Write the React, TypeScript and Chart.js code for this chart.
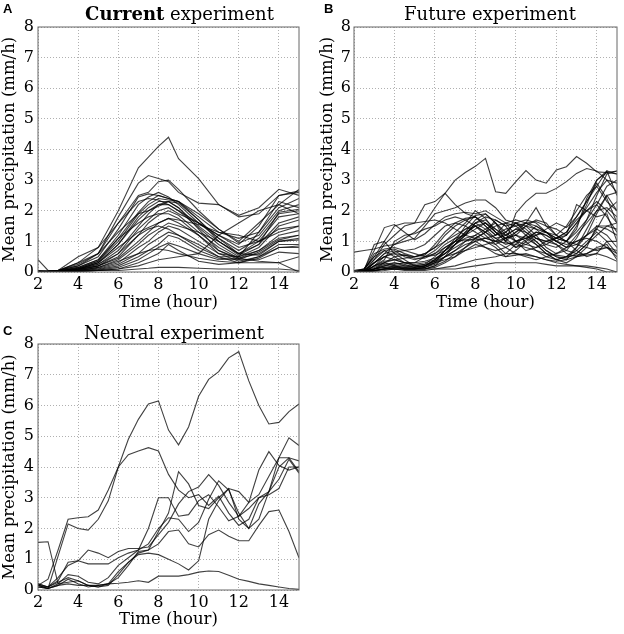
import React, { useEffect, useRef } from "react";
import { Chart, registerables } from "chart.js";
Chart.register(...registerables);

// x positions (hours)
const hoursHalf = [2, 2.5, 3, 3.5, 4, 4.5, 5, 5.5, 6, 6.5, 7, 7.5, 8, 8.5, 9, 9.5, 10, 10.5, 11, 11.5, 12, 12.5, 13, 13.5, 14, 14.5, 15];
const hoursCurrent = [2, 2.5, 3, 4, 5, 6, 7, 7.5, 8, 8.5, 9, 10, 11, 12, 13, 14, 15];
const xTickValues = [2, 4, 6, 8, 10, 12, 14];
const yTickValues = [0, 1, 2, 3, 4, 5, 6, 7, 8];

// Current experiment runs (x = hoursCurrent)
const currentRuns = [
  [0.05, 0.02, 0.05, 0.3, 0.8, 2.0, 3.4, 3.75, 4.1, 4.4, 3.7, 3.05, 2.2, 1.85, 2.1, 2.7, 2.5],
  [0.4, 0.05, 0.05, 0.2, 0.6, 1.8, 2.9, 3.15, 3.05, 2.95, 2.6, 2.25, 2.2, 1.8, 1.9, 2.5, 2.65],
  [0.02, 0.02, 0.05, 0.25, 0.6, 1.6, 2.5, 2.6, 2.95, 3.0, 2.7, 2.0, 1.4, 1.0, 1.6, 2.2, 2.7],
  [0.02, 0.02, 0.05, 0.2, 0.5, 1.4, 2.45, 2.55, 2.5, 2.4, 2.3, 1.8, 1.3, 1.1, 1.3, 2.1, 2.4],
  [0.02, 0.02, 0.04, 0.15, 0.4, 1.2, 2.2, 2.45, 2.6, 2.45, 2.2, 1.6, 1.1, 0.7, 1.1, 1.9, 2.0],
  [0.02, 0.02, 0.03, 0.12, 0.35, 1.0, 1.9, 2.2, 2.4, 2.35, 2.3, 1.9, 1.4, 0.95, 1.2, 2.0, 2.2],
  [0.01, 0.01, 0.03, 0.1, 0.3, 0.9, 1.8, 2.1, 2.3, 2.3, 2.1, 1.5, 1.0, 0.6, 0.9, 1.6, 1.8],
  [0.01, 0.01, 0.02, 0.1, 0.25, 0.7, 1.5, 1.9, 2.2, 2.2, 2.0, 1.45, 0.9, 0.5, 0.8, 1.5, 1.7],
  [0.01, 0.01, 0.02, 0.08, 0.25, 0.6, 1.4, 1.7, 2.0, 2.1, 1.9, 1.6, 1.2, 0.8, 1.0, 1.4, 1.5],
  [0.01, 0.01, 0.02, 0.08, 0.2, 0.5, 1.2, 1.6, 1.85, 2.0, 1.85, 1.3, 0.8, 0.45, 0.7, 1.2, 1.35],
  [0.01, 0.01, 0.02, 0.06, 0.2, 0.45, 1.0, 1.3, 1.6, 1.75, 1.6, 1.2, 0.7, 0.4, 0.65, 1.05, 1.2],
  [0.01, 0.01, 0.02, 0.05, 0.15, 0.4, 0.9, 1.2, 1.4, 1.6, 1.5, 1.3, 1.0, 0.6, 0.55, 1.0, 1.05],
  [0.01, 0.01, 0.01, 0.05, 0.12, 0.3, 0.8, 1.0, 1.3, 1.5, 1.4, 1.0, 0.6, 0.35, 0.5, 0.9, 0.9],
  [0.01, 0.01, 0.01, 0.04, 0.1, 0.25, 0.6, 0.9, 1.1, 1.3, 1.2, 0.9, 0.5, 0.3, 0.45, 0.8, 0.8],
  [0.0, 0.0, 0.01, 0.03, 0.08, 0.2, 0.5, 0.7, 0.9, 1.2, 1.1, 0.7, 0.45, 0.4, 0.4, 0.65, 0.6],
  [0.0, 0.0, 0.01, 0.03, 0.06, 0.15, 0.4, 0.6, 0.8, 0.95, 0.85, 0.6, 0.4, 0.45, 0.35, 0.3, 0.0],
  [0.0, 0.0, 0.01, 0.02, 0.05, 0.1, 0.3, 0.45, 0.6, 0.9, 0.7, 0.35, 0.25, 0.3, 0.3, 0.3, 0.5],
  [0.0, 0.0, 0.0, 0.02, 0.05, 0.05, 0.1, 0.12, 0.15, 0.15, 0.15, 0.12, 0.1, 0.1, 0.1, 0.1, 0.05],
  [0.02, 0.02, 0.05, 0.5, 0.8, 1.6, 2.3, 2.4, 2.35, 2.2, 2.0, 1.6, 1.2, 0.9, 1.5, 2.5, 2.6],
  [0.02, 0.02, 0.04, 0.3, 0.6, 1.3, 1.9, 2.0, 2.15, 2.3, 2.25, 1.7, 1.1, 0.6, 1.0, 1.8, 1.9],
  [0.01, 0.01, 0.03, 0.15, 0.4, 1.1, 1.6, 1.8, 1.9, 1.9, 1.75, 1.2, 0.6, 0.5, 1.3, 2.3, 2.1],
  [0.01, 0.01, 0.02, 0.1, 0.3, 0.8, 1.3, 1.45, 1.6, 1.75, 1.7, 1.55, 1.3, 1.2, 1.0, 1.3, 1.5],
  [0.01, 0.01, 0.02, 0.1, 0.3, 0.9, 1.7, 2.0, 2.2, 2.3, 2.1, 1.4, 0.7, 0.45, 0.6, 1.0, 1.1],
  [0.01, 0.01, 0.02, 0.08, 0.2, 0.6, 1.2, 1.4, 1.5, 1.4, 1.2, 0.8, 0.5, 0.5, 0.7, 1.1, 1.2],
  [0.0, 0.0, 0.01, 0.05, 0.15, 0.35, 0.6, 0.7, 0.75, 0.7, 0.6, 0.45, 0.35, 0.3, 0.5, 0.8, 0.85],
  [0.01, 0.01, 0.02, 0.12, 0.35, 1.1, 1.95, 2.3, 2.5, 2.4, 2.3, 1.7, 1.0, 0.55, 0.9, 1.95, 2.05],
  [0.0, 0.0, 0.0, 0.02, 0.05, 0.1, 0.2, 0.3, 0.4, 0.45, 0.5, 0.6, 1.2, 1.6, 2.0, 2.2, 1.9],
];

// Future experiment runs (x = hoursHalf)
const futureRuns = [
  [0.0, 0.05, 0.3, 0.6, 0.9, 1.1, 1.3, 1.6, 2.1, 2.57, 3.0, 3.25, 3.45, 3.71, 2.62, 2.57, 2.95, 3.31, 3.0, 2.9, 3.33, 3.44, 3.77, 3.55, 3.27, 3.25, 3.3],
  [0.05, 0.1, 0.4, 0.9, 1.2, 1.5, 1.6, 2.2, 2.3, 2.57, 2.2, 1.92, 1.8, 1.6, 1.3, 1.0, 1.92, 2.3, 2.57, 2.57, 2.73, 2.95, 3.22, 3.38, 3.3, 3.0, 2.6],
  [0.65, 0.7, 0.75, 0.85, 0.9, 1.0, 1.1, 1.5, 1.9, 2.0, 2.1, 2.25, 2.35, 2.35, 2.1, 1.7, 1.6, 1.5, 1.4, 1.3, 1.1, 1.3, 1.8, 2.3, 2.8, 3.3, 3.2],
  [0.0, 0.1, 0.7, 1.45, 1.55, 1.3, 1.05, 1.25, 1.55, 1.8, 1.9, 1.95, 1.9, 2.0, 1.8, 1.6, 1.5, 1.6, 1.65, 1.5, 1.4, 1.2, 1.6, 2.1, 2.6, 3.0, 2.9],
  [0.0, 0.05, 0.9, 1.0, 0.6, 0.4, 0.2, 0.15, 0.3, 0.7, 1.0, 1.5, 1.85, 1.9, 1.6, 1.0, 1.3, 1.6, 2.1, 1.5, 1.2, 1.0, 1.4, 2.4, 3.0, 3.3, 2.5],
  [0.05, 0.1, 0.5, 0.7, 0.75, 0.6, 0.5, 0.55, 0.9, 1.3, 1.6, 1.75, 1.8, 1.5, 1.2, 1.6, 1.2, 1.0, 1.2, 1.3, 1.0, 0.8, 1.2, 1.6, 2.0, 2.1, 1.8],
  [0.0, 0.0, 0.2, 0.4, 1.0, 1.2, 1.25, 1.4, 1.5, 1.7, 1.8, 1.7, 1.5, 1.3, 1.7, 1.5, 1.0, 1.1, 1.2, 1.4, 1.6, 1.45, 1.8, 2.3, 2.9, 2.4, 1.6],
  [0.0, 0.0, 0.1, 0.3, 0.5, 0.55, 0.5, 0.6, 0.8, 1.0, 1.2, 1.4, 1.6, 1.7, 1.4, 1.2, 1.4, 1.6, 1.4, 1.1, 0.9, 0.6, 0.5, 0.8, 1.5, 1.5, 1.4],
  [0.0, 0.05, 0.3, 0.5, 0.4, 0.3, 0.3, 0.5, 0.7, 1.0, 1.3, 1.6, 2.0, 1.75, 1.3, 1.0, 0.8, 1.05, 1.3, 1.2, 1.0, 1.2, 2.2, 2.0, 1.8, 1.9, 1.0],
  [0.0, 0.0, 0.1, 0.2, 0.3, 0.25, 0.15, 0.2, 0.4, 0.7, 1.0, 1.3, 1.5, 1.2, 0.9, 0.6, 0.9, 1.2, 1.0, 0.7, 0.5, 0.4, 0.8, 1.4, 2.0, 2.5, 2.6],
  [0.0, 0.0, 0.05, 0.1, 0.15, 0.1, 0.1, 0.1, 0.2, 0.5, 0.9, 1.2, 1.6, 1.4, 1.1, 0.9, 1.0, 1.1, 1.3, 1.2, 1.0, 0.9, 1.0, 1.2, 1.4, 1.2, 0.8],
  [0.0, 0.0, 0.05, 0.1, 0.1, 0.1, 0.1, 0.15, 0.25, 0.5, 0.7, 1.0, 1.2, 1.4, 1.6, 1.3, 1.0, 0.7, 0.8, 1.0, 1.1, 1.0, 0.7, 0.5, 0.6, 1.0, 1.0],
  [0.0, 0.0, 0.1, 0.15, 0.2, 0.15, 0.1, 0.1, 0.2, 0.35, 0.6, 0.8, 1.0, 1.1, 1.2, 1.4, 1.5, 1.2, 0.9, 0.6, 0.4, 0.5, 0.7, 1.0, 1.3, 1.0, 0.6],
  [0.0, 0.0, 0.05, 0.1, 0.2, 0.2, 0.2, 0.25, 0.35, 0.5, 0.6, 0.7, 0.8, 0.9, 1.0, 1.1, 1.2, 1.1, 0.9, 0.6, 0.4, 0.3, 0.5, 0.6, 0.8, 0.9, 0.4],
  [0.0, 0.0, 0.02, 0.05, 0.1, 0.1, 0.1, 0.1, 0.1, 0.15, 0.2, 0.3, 0.4, 0.45, 0.5, 0.6, 0.6, 0.55, 0.5, 0.4, 0.3, 0.25, 0.2, 0.2, 0.15, 0.1, 0.0],
  [0.0, 0.0, 0.3, 0.6, 0.7, 0.5, 0.4, 0.5, 0.6, 0.9, 1.1, 1.2, 1.4, 1.6, 1.3, 1.1, 1.2, 1.5, 1.7, 1.6, 1.2, 1.0, 1.3, 1.7, 2.2, 2.8, 3.0],
  [0.0, 0.0, 0.2, 0.3, 0.2, 0.1, 0.1, 0.15, 0.3, 0.5, 0.7, 0.9, 1.0, 0.8, 0.7, 0.8, 1.0, 0.9, 0.8, 0.9, 1.1, 1.0, 0.9, 0.8, 0.7, 0.8, 0.6],
  [0.0, 0.0, 0.05, 0.1, 0.1, 0.05, 0.05, 0.05, 0.1, 0.1, 0.1, 0.15, 0.2, 0.25, 0.3, 0.3, 0.3, 0.3, 0.3, 0.25, 0.2, 0.2, 0.2, 0.15, 0.1, 0.0, 0.0],
  [0.0, 0.0, 0.4, 0.7, 0.5, 0.3, 0.25, 0.3, 0.4, 0.6, 0.9, 1.1, 1.2, 1.0, 0.8, 0.5, 0.7, 1.0, 0.7, 0.5, 0.4, 0.5, 0.8, 1.2, 1.5, 1.4, 1.2],
  [0.0, 0.0, 0.2, 0.5, 0.65, 0.7, 0.6, 0.5, 0.55, 0.7, 0.9, 1.2, 1.6, 1.8, 1.7, 1.5, 1.6, 1.7, 1.6, 1.3, 1.2, 1.5, 2.0, 2.5, 2.8, 2.3, 2.0],
  [0.0, 0.0, 0.1, 0.15, 0.1, 0.1, 0.1, 0.2, 0.3, 0.4, 0.5, 0.8, 1.1, 1.3, 1.0, 0.8, 0.6, 0.5, 0.4, 0.5, 0.6, 0.8, 1.0, 1.1, 1.0, 0.8, 0.5],
  [0.0, 0.0, 0.15, 0.3, 0.4, 0.45, 0.5, 0.6, 0.8, 1.2, 1.5, 1.7, 1.8, 1.5, 1.2, 1.3, 1.6, 1.3, 1.1, 1.0, 1.1, 1.2, 1.6, 2.0, 2.3, 2.0, 1.6],
  [0.0, 0.05, 0.1, 0.2, 0.25, 0.3, 0.3, 0.35, 0.45, 0.6, 0.8, 1.0, 1.1, 1.0, 0.9, 1.1, 1.3, 1.5, 1.2, 0.8, 0.6, 0.7, 1.1, 1.7, 2.5, 3.2, 3.3],
  [0.0, 0.0, 0.2, 0.35, 0.4, 0.3, 0.2, 0.25, 0.5, 0.8, 1.0, 1.05, 1.05, 1.1, 1.0, 0.95, 0.9, 0.8, 0.7, 0.6, 0.55, 0.5, 0.55, 0.6, 0.75, 0.8, 0.7],
  [0.0, 0.1, 0.5, 1.0, 1.5, 1.6, 1.6, 1.65, 1.7, 1.6, 1.4, 1.2, 1.1, 1.3, 1.5, 1.6, 1.7, 1.6, 1.5, 1.3, 1.0, 0.8, 0.9, 1.2, 1.9, 2.5, 2.0],
  [0.0, 0.0, 0.05, 0.1, 0.15, 0.15, 0.15, 0.2, 0.4, 0.7, 1.1, 1.4, 1.5, 1.3, 1.1, 1.2, 1.4, 1.3, 1.0, 0.7, 0.5, 0.45, 0.6, 0.9, 1.2, 1.5, 1.6],
  [0.0, 0.05, 0.6, 0.75, 0.8, 0.7, 0.75, 0.9, 1.2, 1.5, 1.6, 1.5, 1.3, 1.1, 1.0, 1.3, 1.6, 1.4, 1.1, 0.9, 0.8, 1.0, 1.5, 2.2, 3.0, 3.25, 3.2],
  [0.0, 0.0, 0.1, 0.25, 0.3, 0.2, 0.15, 0.2, 0.35, 0.6, 0.9, 1.3, 1.7, 1.9, 1.6, 1.2, 1.0, 1.2, 1.5, 1.3, 1.1, 1.3, 1.7, 2.0, 2.2, 1.8, 1.3],
  [0.0, 0.0, 0.05, 0.1, 0.1, 0.1, 0.1, 0.1, 0.15, 0.3, 0.5, 0.7, 0.9, 0.8, 0.6, 0.5, 0.55, 0.6, 0.5, 0.4, 0.35, 0.4, 0.5, 0.55, 0.6, 0.5, 0.35],
  [0.0, 0.0, 0.3, 0.5, 0.6, 0.55, 0.45, 0.45, 0.6, 0.8, 1.0, 1.25, 1.5, 1.6, 1.4, 1.1, 0.8, 0.9, 1.1, 1.0, 0.9, 0.7, 0.6, 0.9, 1.4, 2.0, 2.3],
];

// Neutral experiment runs (x = hoursHalf)
const neutralRuns = [
  [0.15, 0.35, 1.3, 2.3, 2.35, 2.38, 2.6, 3.25, 4.0, 4.9, 5.55, 6.05, 6.15, 5.2, 4.72, 5.3, 6.3, 6.85, 7.1, 7.55, 7.75, 6.8, 6.0, 5.4, 5.45, 5.8, 6.05],
  [0.15, 0.05, 1.1, 2.15, 2.0, 1.95, 2.3, 2.9, 4.0, 4.4, 4.52, 4.63, 4.52, 3.76, 3.25, 3.0, 3.1, 2.75, 3.05, 2.5, 2.1, 2.3, 3.0, 3.2, 4.0, 4.3, 4.2],
  [0.1, 0.05, 0.15, 0.2, 0.15, 0.15, 0.15, 0.2, 0.22, 0.25, 0.3, 0.25, 0.45, 0.45, 0.45, 0.5, 0.58, 0.62, 0.6, 0.48, 0.35, 0.28, 0.2, 0.15, 0.1, 0.05, 0.02],
  [1.55, 1.57, 0.2, 0.25, 0.3, 0.15, 0.1, 0.2, 0.6, 0.9, 1.15, 1.2, 1.15, 1.0, 0.85, 0.65, 0.95, 2.3, 2.9, 3.3, 2.3, 2.0, 2.8, 3.2, 3.6, 4.25, 3.8],
  [0.15, 0.1, 0.3, 0.9, 0.95, 0.85, 0.85, 0.85, 1.05, 1.2, 1.3, 1.5, 2.0, 2.35, 2.3, 1.9, 2.2, 2.95, 3.55, 3.25, 2.5, 2.0, 2.3, 3.2, 4.3, 4.3, 3.85],
  [0.2, 0.1, 0.4, 0.8, 0.95, 1.3, 1.2, 1.05, 1.25, 1.35, 1.35, 1.4, 1.8, 2.2, 2.8, 3.2, 3.35, 3.75, 3.4, 2.85, 2.4, 2.65, 3.0, 3.1, 3.3, 4.0, 4.0],
  [0.15, 0.05, 0.2, 0.5, 0.45, 0.25, 0.2, 0.4, 0.8, 1.05, 1.3, 2.0, 3.0, 3.0, 2.4, 2.45, 2.9, 3.1, 2.7, 2.25, 2.4, 2.85, 3.1, 3.7, 4.3, 4.95, 4.7],
  [0.2, 0.1, 0.25, 0.4, 0.3, 0.15, 0.1, 0.15, 0.5, 0.9, 1.2, 1.3, 1.9, 2.5, 3.85, 3.45, 2.75, 2.65, 3.0, 3.3, 3.2, 2.85, 3.9, 4.5, 4.05, 3.9, 4.0],
  [0.1, 0.05, 0.15, 0.35, 0.2, 0.1, 0.15, 0.2, 0.4, 0.8, 1.25, 1.3, 1.5, 1.9, 1.95, 1.5, 1.4, 1.8, 1.95, 1.75, 1.6, 1.6, 2.1, 2.55, 2.6, 1.9, 1.05],
];

const SERIF = '"DejaVu Serif", serif';
const LINE_COLOR = "rgba(0,0,0,0.75)";

const boxPlugin = {
  id: "frameBox",
  afterDraw(chart: any) {
    const { ctx, chartArea: a } = chart;
    ctx.save();
    ctx.strokeStyle = "#666";
    ctx.lineWidth = 1;
    ctx.strokeRect(a.left, a.top, a.right - a.left, a.bottom - a.top);
    ctx.restore();
  },
};

type PanelProps = {
  left: number;
  top: number;
  width: number;
  height: number;
  xs: number[];
  runs: number[][];
  yAxisWidth: number;
  xAxisHeight: number;
  padTop: number;
  padRight: number;
  yTitlePad: number;
  yTickPad: number;
};

function Panel(p: PanelProps) {
  const ref = useRef<HTMLCanvasElement | null>(null);
  useEffect(() => {
    if (!ref.current) return;
    const datasets = p.runs.map((run) => ({
      data: run.map((v, i) => ({ x: p.xs[i], y: v })),
      borderColor: LINE_COLOR,
      borderWidth: 1.1,
      pointRadius: 0,
      tension: 0,
      fill: false,
    }));
    const chart = new Chart(ref.current, {
      type: "line",
      data: { datasets },
      options: {
        animation: false,
        responsive: false,
        events: [],
        layout: { padding: { top: p.padTop, right: p.padRight, left: 0, bottom: 0 } },
        plugins: { legend: { display: false }, tooltip: { enabled: false } },
        scales: {
          x: {
            type: "linear",
            min: 2,
            max: 15,
            afterBuildTicks: (s: any) => {
              s.ticks = xTickValues.map((v) => ({ value: v }));
            },
            afterFit: (s: any) => {
              s.height = p.xAxisHeight;
            },
            ticks: {
              autoSkip: false,
              maxRotation: 0,
              padding: 3,
              color: "#000",
              font: { family: SERIF, size: 16 },
            },
            grid: { color: "#b0b0b0", lineWidth: 1, drawTicks: false },
            border: { display: false, dash: [1, 2] },
            title: {
              display: true,
              text: "Time (hour)",
              color: "#000",
              font: { family: SERIF, size: 16.5 },
              padding: { top: 0, bottom: 4 },
            },
          },
          y: {
            type: "linear",
            min: 0,
            max: 8,
            afterBuildTicks: (s: any) => {
              s.ticks = yTickValues.map((v) => ({ value: v }));
            },
            afterFit: (s: any) => {
              s.width = p.yAxisWidth;
            },
            ticks: {
              autoSkip: false,
              padding: p.yTickPad,
              color: "#000",
              font: { family: SERIF, size: 16 },
            },
            grid: { color: "#b0b0b0", lineWidth: 1, drawTicks: false },
            border: { display: false, dash: [1, 2] },
            title: {
              display: true,
              text: "Mean precipitation (mm/h)",
              color: "#000",
              font: { family: SERIF, size: 16.5 },
              padding: { top: p.yTitlePad, bottom: 0 },
            },
          },
        },
      },
      plugins: [boxPlugin],
    } as any);
    return () => chart.destroy();
  }, []);
  return (
    <canvas
      ref={ref}
      width={p.width}
      height={p.height}
      style={{ position: "absolute", left: p.left, top: p.top, width: p.width, height: p.height }}
    />
  );
}

function Title(props: { cx: number; top: number; children: React.ReactNode }) {
  return (
    <div
      style={{
        position: "absolute",
        left: props.cx - 150,
        top: props.top,
        width: 300,
        textAlign: "center",
        fontFamily: SERIF,
        fontSize: 18,
        lineHeight: "20px",
        color: "#000",
        whiteSpace: "nowrap",
      }}
    >
      {props.children}
    </div>
  );
}

function Letter(props: { left: number; top: number; text: string }) {
  return (
    <div
      style={{
        position: "absolute",
        left: props.left,
        top: props.top,
        fontFamily: '"Liberation Sans", Arial, sans-serif',
        fontWeight: "bold",
        fontSize: 13,
        lineHeight: "13px",
        color: "#000",
      }}
    >
      {props.text}
    </div>
  );
}

export default function App() {
  return (
    <div style={{ position: "absolute", left: 0, top: 0, width: 624, height: 634, background: "#fff", overflow: "hidden" }}>
      <Panel left={0} top={0} width={312} height={317} xs={hoursCurrent} runs={currentRuns}
        yAxisWidth={38} xAxisHeight={45} padTop={27} padRight={13} yTitlePad={0} yTickPad={4} />
      <Panel left={312} top={0} width={312} height={317} xs={hoursHalf} runs={futureRuns}
        yAxisWidth={42} xAxisHeight={45} padTop={27} padRight={7} yTitlePad={6} yTickPad={3} />
      <Panel left={0} top={317} width={312} height={317} xs={hoursHalf} runs={neutralRuns}
        yAxisWidth={38} xAxisHeight={44} padTop={27} padRight={13} yTitlePad={0} yTickPad={4} />
      <Title cx={179.5} top={4}>
        <span style={{ fontWeight: "bold" }}>Current</span> experiment
      </Title>
      <Title cx={490} top={4}>Future experiment</Title>
      <Title cx={174} top={323}>Neutral experiment</Title>
      <Letter left={3} top={2} text="A" />
      <Letter left={324} top={2} text="B" />
      <Letter left={3} top={324} text="C" />
    </div>
  );
}
